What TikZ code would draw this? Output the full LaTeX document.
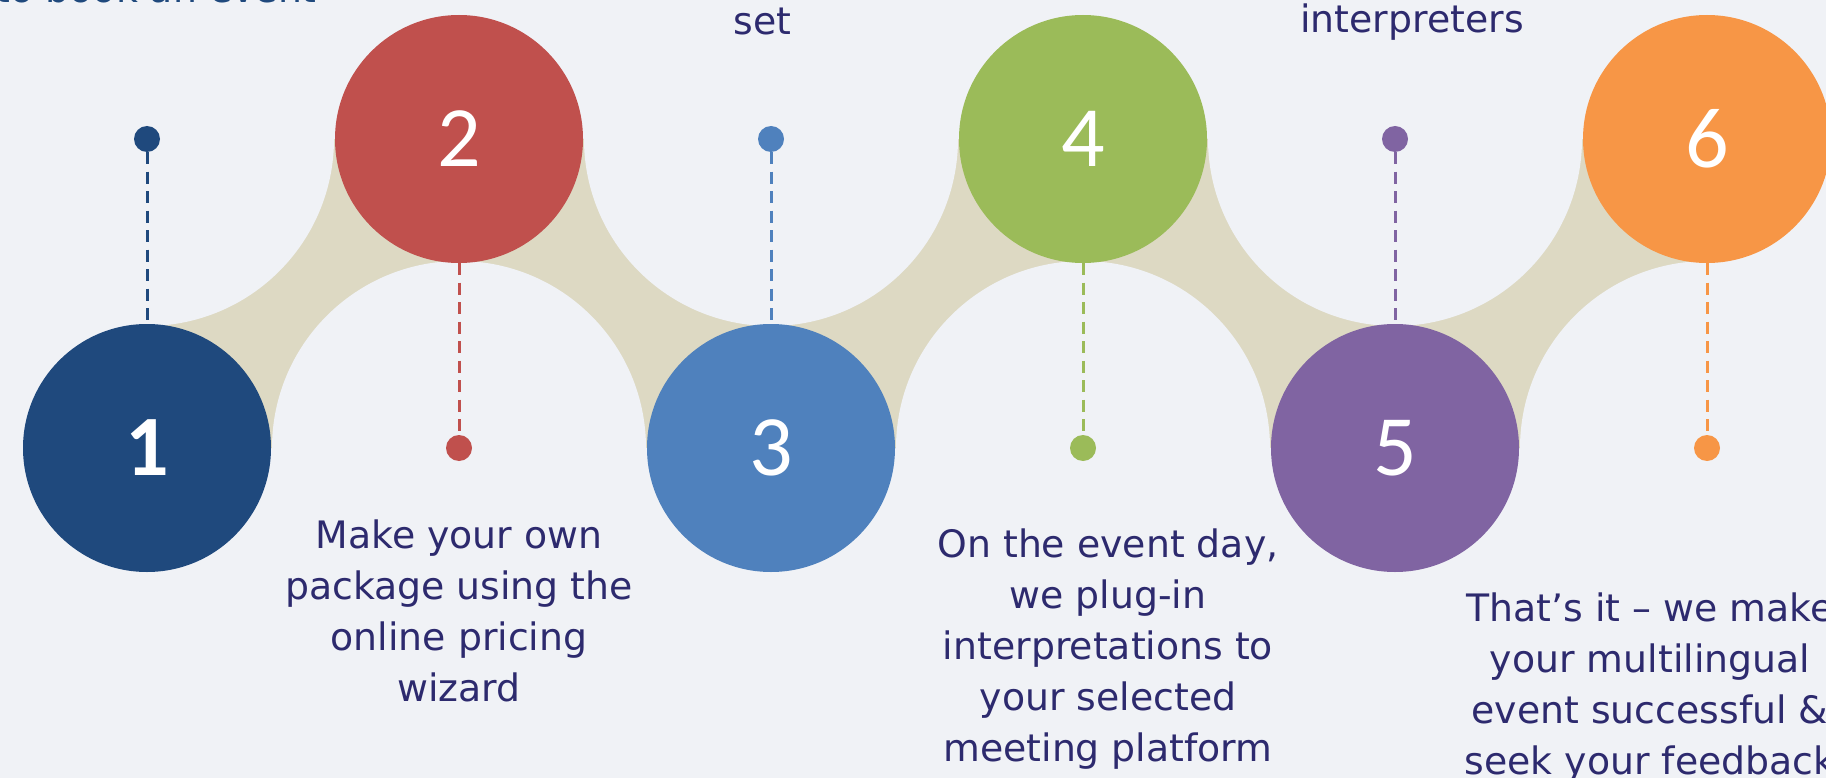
\documentclass[tikz,border=0pt]{standalone}
\usepackage{fontspec}
\setmainfont{DejaVu Sans}
\newfontfamily\numfont{Carlito}
\definecolor{bgc}{HTML}{F0F2F6}
\definecolor{beige}{HTML}{DDD9C3}
\definecolor{txt}{HTML}{2D2A6E}
\definecolor{cA}{HTML}{1F497D}
\definecolor{cB}{HTML}{C0504D}
\definecolor{cC}{HTML}{4F81BD}
\definecolor{cD}{HTML}{9BBB59}
\definecolor{cE}{HTML}{8064A2}
\definecolor{cF}{HTML}{F79646}
\tikzset{
  bigcirc/.style={circle, minimum size=248pt, inner sep=0pt, text=white,
    font=\numfont\fontsize{86}{90}\selectfont},
  dotnode/.style={circle, minimum size=26pt, inner sep=0pt},
  dashline/.style={line width=3pt, dash pattern=on 12pt off 7.5pt},
  lbl/.style={font=\fontsize{37.8}{51}\selectfont, text=txt, align=center, inner sep=0pt},
  toplbl/.style={font=\fontsize{37.8}{51}\selectfont, text=txt, inner sep=0pt}
}
\begin{document}
\begin{tikzpicture}[x=1pt,y=-1pt]
\useasboundingbox (0,0) rectangle (1826,778);
\clip (0,0) rectangle (1826,778);
\fill[bgc] (0,0) rectangle (1826,778);
% beige band
\fill[beige] (147,139) rectangle (1707,448);
\foreach \x/\y in {147/139, 459/448, 771/139, 1083/448, 1395/139, 1707/448}
  \fill[bgc] (\x,\y) circle[radius=187pt];
% dots
\node[dotnode, fill=cA] (d1) at (147,139) {};
\node[dotnode, fill=cB] (d2) at (459,448) {};
\node[dotnode, fill=cC] (d3) at (771,139) {};
\node[dotnode, fill=cD] (d4) at (1083,448) {};
\node[dotnode, fill=cE] (d5) at (1395,139) {};
\node[dotnode, fill=cF] (d6) at (1707,448) {};
% circles
\node[bigcirc, fill=cA, font=\numfont\bfseries\fontsize{86}{90}\selectfont] (n1) at (147,448) {1};
\node[bigcirc, fill=cB] (n2) at (459,139) {2};
\node[bigcirc, fill=cC] (n3) at (771,448) {3};
\node[bigcirc, fill=cD] (n4) at (1083,139) {4};
\node[bigcirc, fill=cE] (n5) at (1395,448) {5};
\node[bigcirc, fill=cF] (n6) at (1707,139) {6};
% dashed connectors
\draw[dashline, cA] (d1) -- (n1);
\draw[dashline, cB] (n2) -- (d2);
\draw[dashline, cC] (d3) -- (n3);
\draw[dashline, cD] (n4) -- (d4);
\draw[dashline, cE] (d5) -- (n5);
\draw[dashline, cF] (n6) -- (d6);
% labels
\node[toplbl, text=cA, anchor=base east] (t1) at (317,3) {to book an event};
\node[toplbl, anchor=base] (t3) at (762.5,35) {set};
\node[toplbl, anchor=base] (t5) at (1412,33) {interpreters};
\node[lbl, anchor=north] (t2) at (459,512.6) {\rule{0pt}{35.7pt}Make your own\\package using the\\online pricing\\wizard};
\node[lbl, anchor=north] (t4) at (1108,521.6) {\rule{0pt}{35.7pt}On the event day,\\we plug-in\\interpretations to\\your selected\\meeting platform};
\node[lbl, anchor=north] (t6) at (1650,586) {\rule{0pt}{35.7pt}That’s it -- we make\\your multilingual\\event successful \&\\seek your feedback};
\end{tikzpicture}
\end{document}
